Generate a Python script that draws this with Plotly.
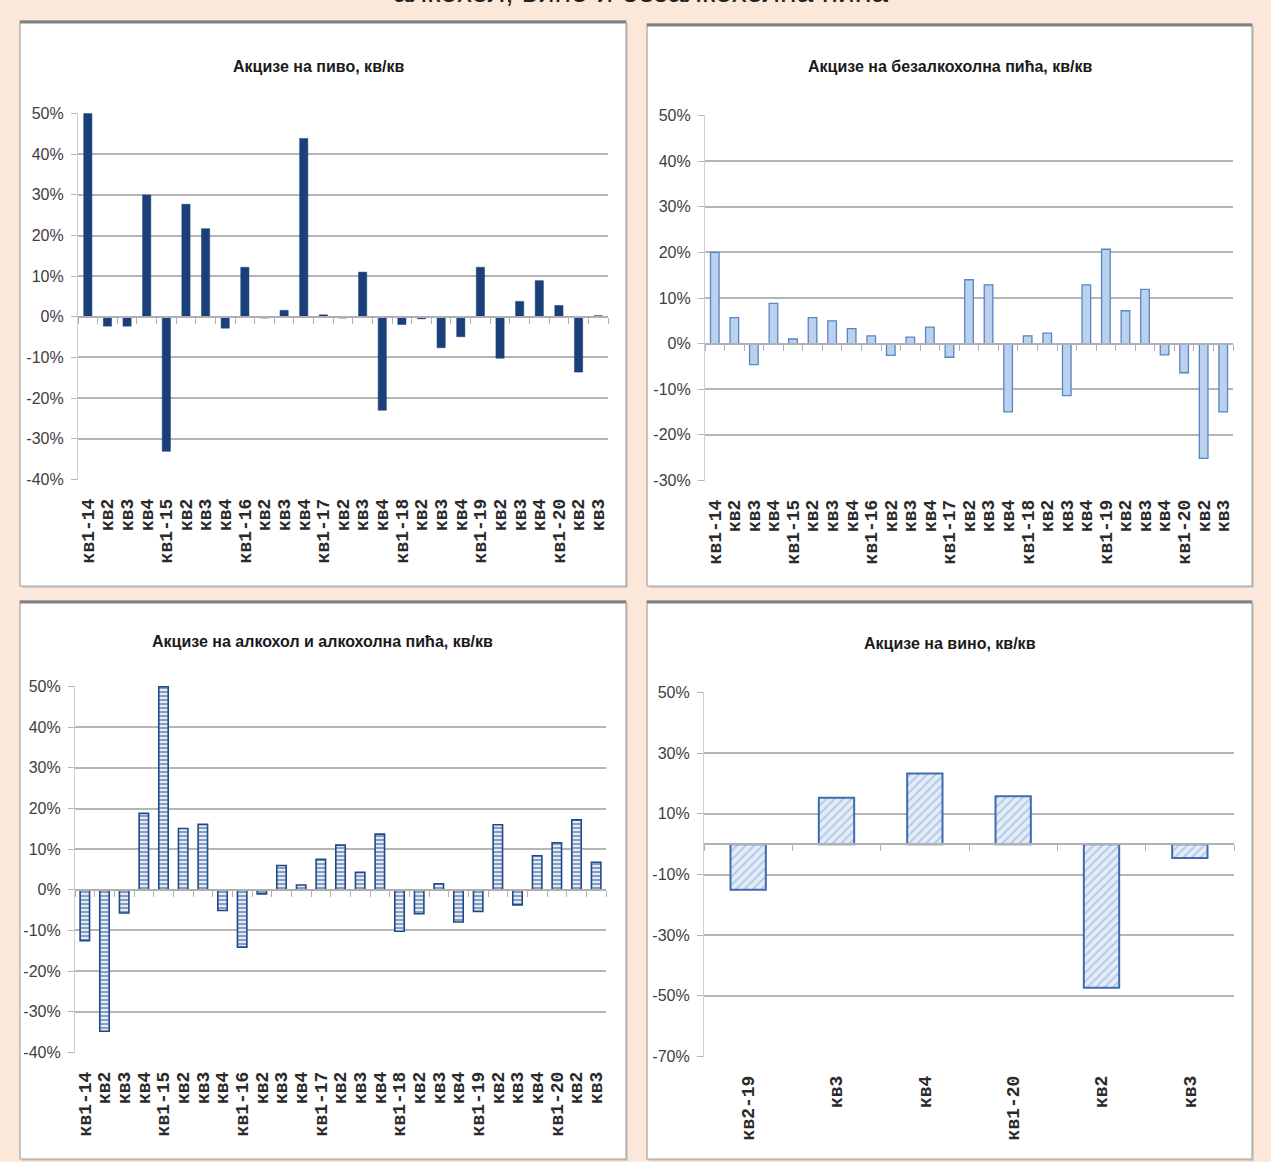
import plotly.graph_objects as go

W, H = 1271, 1162

# ---------------- data ----------------
quarters = ["кв1-14", "кв2", "кв3", "кв4", "кв1-15", "кв2", "кв3", "кв4",
            "кв1-16", "кв2", "кв3", "кв4", "кв1-17", "кв2", "кв3", "кв4",
            "кв1-18", "кв2", "кв3", "кв4", "кв1-19", "кв2", "кв3", "кв4",
            "кв1-20", "кв2", "кв3"]
wine_quarters = ["кв2-19", "кв3", "кв4", "кв1-20", "кв2", "кв3"]

beer = [50, -2.3, -2.3, 30, -33.1, 27.7, 21.7, -2.8, 12.2, -0.3, 1.6, 43.9,
        0.5, -0.3, 11, -23, -1.9, -0.5, -7.6, -4.9, 12.2, -10.2, 3.8, 8.9,
        2.8, -13.6, 0.3]
soft = [20, 5.7, -4.6, 8.8, 1.0, 5.7, 5.0, 3.3, 1.7, -2.6, 1.4, 3.6, -3.0,
        14.0, 12.9, -15.0, 1.7, 2.3, -11.4, 12.9, 20.7, 7.2, 11.9, -2.5,
        -6.4, -25.2, -15.0]
alcohol = [-12.5, -34.8, -5.7, 18.8, 50, 15.1, 16.1, -5.1, -14.1, -1.0, 6.0,
           1.2, 7.5, 11.0, 4.3, 13.7, -10.2, -5.9, 1.5, -7.9, -5.3, 16.0,
           -3.7, 8.4, 11.6, 17.2, 6.8]
wine = [-15.0, 15.3, 23.3, 15.8, -47.3, -4.6]

titles = ["Акцизе на пиво, кв/кв",
          "Акцизе на безалкохолна пића, кв/кв",
          "Акцизе на алкохол и алкохолна пића, кв/кв",
          "Акцизе на вино, кв/кв"]
header = "алкохол, вино и безалкохолна пића"

y_ticks_a = [-40, -30, -20, -10, 0, 10, 20, 30, 40, 50]
y_ticks_b = [-30, -20, -10, 0, 10, 20, 30, 40, 50]
y_ticks_w = [-70, -50, -30, -10, 10, 30, 50]

# ---------------- styling helpers ----------------
def fx(px):
    return px / W

def fy(py):
    return 1 - py / H

TICK_FONT = dict(family="Liberation Sans, Arial, sans-serif", size=16, color="#404040")
CAT_FONT = dict(family="Liberation Mono, Courier New, monospace", size=18, color="#2a2a2a",
                weight="bold")
TITLE_FONT = dict(family="Liberation Sans, Arial, sans-serif", size=16, color="#1a1a1a")
GRID = "#b5b5b5"

# panel boxes (pixels): x0, y0, x1, y1
boxes = [(20, 21, 626, 586), (647, 24, 1252, 586),
         (20, 601, 626, 1159), (647, 601, 1252, 1159)]
# plot areas (pixels): left, top, right, bottom
areas = [(78, 113, 608, 480), (705, 115, 1233, 481),
         (75, 686, 606, 1053), (704, 692, 1234, 1057)]
ranges = [(-40, 50), (-30, 50), (-40, 50), (-70, 50)]
title_pos = [(318, 67), (950, 67), (322, 641), (950, 643)]

fig = go.Figure()

series = [
    (quarters, beer, dict(color="#1b4079", line=dict(color="#1b4079", width=0.5)), 0.42),
    (quarters, soft, dict(color="#bad2ef", line=dict(color="#5a86c0", width=1.3)), 0.44),
    (quarters, alcohol, dict(color="#eef3fb",
                             pattern=dict(shape="-", fgcolor="#1f4a8a", bgcolor="#eef3fb",
                                          size=4, solidity=0.55),
                             line=dict(color="#1f4a8a", width=1.6)), 0.48),
    (wine_quarters, wine, dict(color="#dfe9f7",
                               pattern=dict(shape="/", fgcolor="#7c9fcf", bgcolor="#e3ecf8",
                                            size=6, solidity=0.3),
                               line=dict(color="#3f6cae", width=2)), 0.40),
]
yticks = [y_ticks_a, y_ticks_b, y_ticks_a, y_ticks_w]

for i, (cats, vals, marker, bw) in enumerate(series):
    n = i + 1
    xa = "x" if n == 1 else f"x{n}"
    ya = "y" if n == 1 else f"y{n}"
    xt = f"x{n + 4}"
    idx = list(range(len(cats)))
    fig.add_trace(go.Bar(x=idx, y=vals, width=bw, marker=marker,
                         xaxis=xa, yaxis=ya, showlegend=False, hoverinfo="y"))
    # invisible trace so the zero-line tick axis is drawn
    fig.add_trace(go.Scatter(x=[idx[0]], y=[0], mode="markers", marker=dict(opacity=0),
                             xaxis=xt, yaxis=ya, showlegend=False, hoverinfo="skip"))
    L, T, R, B = areas[i]
    lo, hi = ranges[i]
    xdom = [fx(L), fx(R)]
    ydom = [fy(B), fy(T)]
    xr = [-0.5, len(cats) - 0.5]
    zero_pos = ydom[0] + (0 - lo) / (hi - lo) * (ydom[1] - ydom[0])
    fig.update_layout(**{
        ("xaxis" if n == 1 else f"xaxis{n}"): dict(
            domain=xdom, anchor=ya, range=xr, tickmode="array", tickvals=idx,
            ticktext=cats, tickangle=-90, tickfont=CAT_FONT, showgrid=False,
            showline=False, zeroline=False, ticks="", ticklabelstandoff=14,
            automargin=False, fixedrange=True),
        ("yaxis" if n == 1 else f"yaxis{n}"): dict(
            domain=ydom, anchor=xa, range=[lo - 0.15, hi + 0.15], tickmode="array",
            tickvals=yticks[i], ticktext=[f"{v}%" for v in yticks[i]], tickfont=TICK_FONT,
            showgrid=True, gridcolor=GRID, gridwidth=1.6, zeroline=False,
            showline=True, linecolor="#cfcfcf", linewidth=1.2,
            ticks="outside", ticklen=6, tickcolor=GRID, tickwidth=1.4,
            ticklabelstandoff=4, automargin=False, fixedrange=True),
        f"xaxis{n + 4}": dict(
            overlaying=xa, anchor="free", position=zero_pos, range=xr,
            tickmode="array", tickvals=[k - 0.5 for k in range(len(cats) + 1)],
            showticklabels=False, ticks="outside", ticklen=6, tickcolor="#b0b0b0",
            tickwidth=1.2, showline=True, linecolor="#b0b0b0", linewidth=1.6,
            showgrid=False, zeroline=False, automargin=False, fixedrange=True),
    })

shapes = []
for (x0, y0, x1, y1) in boxes:
    shapes.append(dict(type="rect", xref="paper", yref="paper", layer="below",
                       x0=fx(x0 + 2), x1=fx(x1 + 2), y0=fy(y1 + 2), y1=fy(y0 + 2),
                       line=dict(width=0), fillcolor="#d9cbbd"))
    shapes.append(dict(type="rect", xref="paper", yref="paper", layer="below",
                       x0=fx(x0), x1=fx(x1), y0=fy(y1), y1=fy(y0),
                       line=dict(color="#a4a4a4", width=1.2), fillcolor="white"))
    shapes.append(dict(type="line", xref="paper", yref="paper", layer="below",
                       x0=fx(x0), x1=fx(x1), y0=fy(y0 + 1), y1=fy(y0 + 1),
                       line=dict(color="#808080", width=3)))

annotations = []
for t, (cx, cy) in zip(titles, title_pos):
    annotations.append(dict(text=f"<b>{t}</b>", x=fx(cx), y=fy(cy), xref="paper",
                            yref="paper", showarrow=False, xanchor="center",
                            yanchor="middle", font=TITLE_FONT))
annotations.append(dict(text=header, x=fx(640), y=fy(-9), xref="paper", yref="paper",
                        showarrow=False, xanchor="center", yanchor="middle",
                        font=dict(family="Liberation Sans, Arial, sans-serif", size=30,
                                  color="#222222")))

fig.update_layout(width=W, height=H,
                  margin=dict(l=0, r=0, t=0, b=0, pad=0, autoexpand=False),
                  paper_bgcolor="#fce8da", plot_bgcolor="rgba(0,0,0,0)",
                  shapes=shapes, annotations=annotations, showlegend=False)

fig.write_html("out.html", config={"displayModeBar": False},
               post_script="document.body.style.margin='0';document.body.style.padding='0';"
                           "document.body.style.overflow='hidden';")
